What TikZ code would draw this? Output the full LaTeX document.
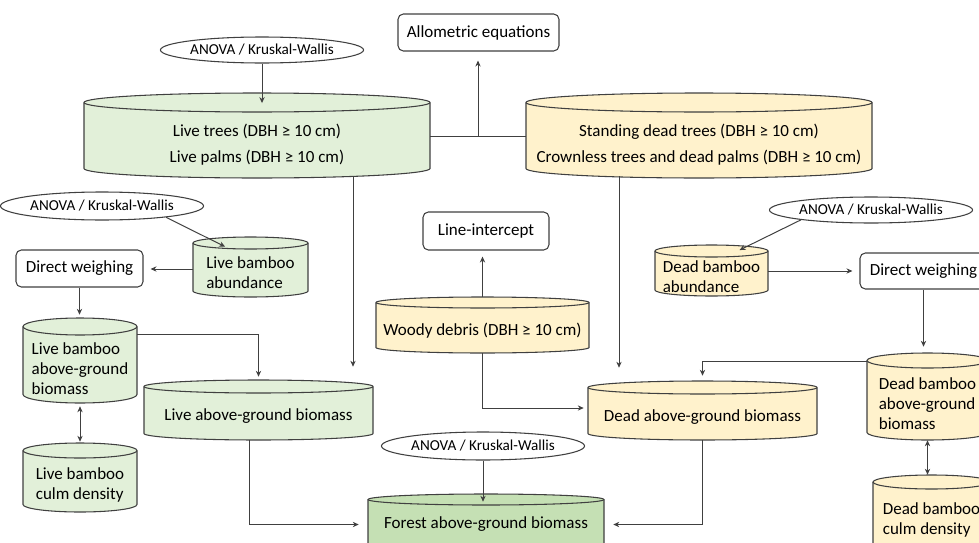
\documentclass[tikz,border=0pt]{standalone}
\usepackage{fontspec}
\setmainfont{Carlito}
\usetikzlibrary{arrows.meta,shapes.geometric,calc}
\definecolor{lc}{HTML}{404040}
\definecolor{gf}{HTML}{E2F0D9}
\definecolor{yf}{HTML}{FFF2CC}
\definecolor{ff}{HTML}{C5E0B4}
\tikzset{
 cylline/.style={draw=lc,line width=0.8pt},
 cyltext/.style={inner sep=0pt,align=center,font=\fontsize{12.75}{15}\selectfont},
 bigtext/.style={font=\fontsize{12.75}{19.5}\selectfont},
 leftt/.style={align=left},
 box/.style={draw=lc,line width=0.8pt,rounded corners=4pt,fill=white,inner sep=0pt,font=\fontsize{12.75}{15}\selectfont},
 oval/.style={ellipse,draw=lc,line width=0.8pt,fill=white,inner sep=0pt,font=\fontsize{11.4}{13}\selectfont},
 arr/.style={draw=lc,line width=0.75pt,-{Stealth[length=4.5pt,width=4pt]}},
 darr/.style={draw=lc,line width=0.75pt,{Stealth[length=4.5pt,width=4pt]}-{Stealth[length=4.5pt,width=4pt]}},
 ln/.style={draw=lc,line width=0.75pt},
}
% name, x1, y1, x2, y2 (pixels, y downward), ry, fill, text, node options
\newcommand\drawcyl[9]{%
  \pgfmathsetmacro\cylrx{((#4)-(#2))/2}%
  \pgfmathsetmacro\cylcx{((#2)+(#4))/2}%
  \pgfmathsetmacro\cyltop{-(#3)-(#6)}%
  \pgfmathsetmacro\cylbot{-(#5)+(#6)}%
  \filldraw[cylline,fill=#7] (#2,\cyltop) -- (#2,\cylbot) arc[start angle=180,end angle=360,x radius=\cylrx,y radius=#6] -- (#4,\cyltop) arc[start angle=0,end angle=180,x radius=\cylrx,y radius=#6] -- cycle;
  \draw[cylline] (#2,\cyltop) arc[start angle=180,end angle=360,x radius=\cylrx,y radius=#6];
  \pgfmathsetmacro\cylw{((#4)-(#2))*0.75}%
  \pgfmathsetmacro\cylh{((#5)-(#3)-2*(#6))*0.75}%
  \pgfmathsetmacro\cylcy{-((#3)+2*(#6)+(#5))/2}%
  \node[cyltext,minimum width=\cylw pt,minimum height=\cylh pt,#9] (#1) at (\cylcx,\cylcy) {#8};
}
\begin{document}
\begin{tikzpicture}[x=0.75pt,y=0.75pt]
\useasboundingbox (0,0) rectangle (979,-543);
\clip (0,0) rectangle (979,-543);

% cylinders
\drawcyl{lt}{84}{93}{430}{178}{9.5}{gf}{Live trees (DBH ≥ 10 cm)\\Live palms (DBH ≥ 10 cm)}{bigtext}
\drawcyl{sd}{526}{93}{872}{178}{9.5}{yf}{Standing dead trees (DBH ≥ 10 cm)\\Crownless trees and dead palms (DBH ≥ 10 cm)}{bigtext}
\drawcyl{lba}{193}{237}{308}{297}{6}{gf}{Live bamboo\\abundance}{leftt}
\drawcyl{lbagb}{23}{318}{137}{403}{8.5}{gf}{Live bamboo\\above-ground\\biomass}{leftt}
\drawcyl{lbcd}{23}{443}{137}{512}{7.5}{gf}{Live bamboo\\culm density}{leftt}
\drawcyl{lagb}{144}{380}{373}{440}{6.5}{gf}{Live above-ground biomass}{}
\drawcyl{wd}{376}{297}{589}{353}{5.5}{yf}{Woody debris (DBH ≥ 10 cm)}{}
\drawcyl{dagb}{588}{381}{817}{440}{6.5}{yf}{Dead above-ground biomass}{}
\drawcyl{dba}{655}{245}{768}{296}{6}{yf}{Dead bamboo\\abundance}{leftt}
\drawcyl{dbagb}{867}{353}{988}{440}{7.5}{yf}{Dead bamboo\\above-ground\\biomass}{leftt}
\drawcyl{dbcd}{873}{475}{990}{550}{7}{yf}{Dead bamboo\\culm density}{leftt}
\drawcyl{fagb}{368}{494}{604}{560}{5.5}{ff}{Forest above-ground biomass}{yshift=6pt}

% boxes
\node[box,minimum width=120.75pt,minimum height=27.75pt] (ae) at (478.5,-32.5) {Allometric equations};
\node[box,minimum width=95.25pt,minimum height=27.75pt] (dw1) at (79.5,-268.5) {Direct weighing};
\node[box,minimum width=94.5pt,minimum height=28.5pt] (li) at (486,-231) {Line-intercept};
\node[box,minimum width=95.25pt,minimum height=27pt] (dw2) at (923.5,-271) {Direct weighing};

% ovals
\node[oval,minimum width=133.5pt,minimum height=19.5pt] (an1) at (262,-50) {ANOVA / Kruskal-Wallis};
\node[oval,minimum width=136.5pt,minimum height=21pt] (an2) at (102,-206) {ANOVA / Kruskal-Wallis};
\node[oval,minimum width=135pt,minimum height=21pt] (an3) at (483,-446) {ANOVA / Kruskal-Wallis};
\node[oval,minimum width=137.25pt,minimum height=19.5pt] (an4) at (871,-210) {ANOVA / Kruskal-Wallis};

% connectors
\draw[arr,shorten >=6.5pt] (an1.south) -- (an1.south |- lt.north);
\coordinate (j) at ($(lt.east)!0.5!(sd.west)+(0,6.75pt)$);
\draw[ln] (lt.east |- j) -- (sd.west |- j);
\draw[arr,shorten >=6.75pt] (j) -- (j |- ae.south);
\draw[arr,shorten <=-1.5pt,shorten >=19.5pt] ([xshift=72pt]lt.south) -- ([xshift=72pt]lt.south |- lagb.north);
\draw[arr,shorten <=-1.5pt,shorten >=19.5pt] ([xshift=-60pt]sd.south) -- ([xshift=-60pt]sd.south |- dagb.north);

\draw[arr] (an2.-10) -- ([xshift=-19pt,yshift=1.5pt]lba.north);
\draw[arr,shorten >=5.25pt] ([yshift=3pt]lba.west) -- ([yshift=3pt]lba.west -| dw1.east);
\draw[arr,shorten >=15pt] (dw1.south) -- (dw1.south |- lbagb.north);
\draw[arr,shorten >=12pt] (lbagb.north east) -| (lagb.north);
\draw[darr,shorten <=2.25pt,shorten >=12pt] (lbagb.south) -- (lbagb.south |- lbcd.north);
\draw[arr,shorten >=6.75pt] ([xshift=-6.4pt]lagb.south) |- (fagb.west);

\draw[arr,shorten >=4.5pt] ([yshift=8.25pt]wd.north) -- (wd.north |- li.south);
\draw[arr,shorten >=3pt] (wd.south) |- ([yshift=6.75pt]dagb.west);
\draw[arr,shorten >=-3.75pt] (an3.south) -- (an3.south |- fagb.north);

\draw[arr] (an4.188) -- ([xshift=21pt,yshift=5pt]dba.north);
\draw[arr,shorten >=5.25pt] (dba.east |- dw2.west) -- (dw2.west);
\draw[arr,shorten >=15.75pt] (dw2.south) -- (dw2.south |- dbagb.north);
\draw[arr,shorten >=13.5pt] ([yshift=4.5pt]dbagb.north west) -| (dagb.north);
\draw[darr,shorten >=10.5pt] (dbagb.south) -- (dbagb.south |- dbcd.north);
\draw[arr,shorten >=6.75pt] (dagb.south) |- (fagb.east);
\end{tikzpicture}
\end{document}
